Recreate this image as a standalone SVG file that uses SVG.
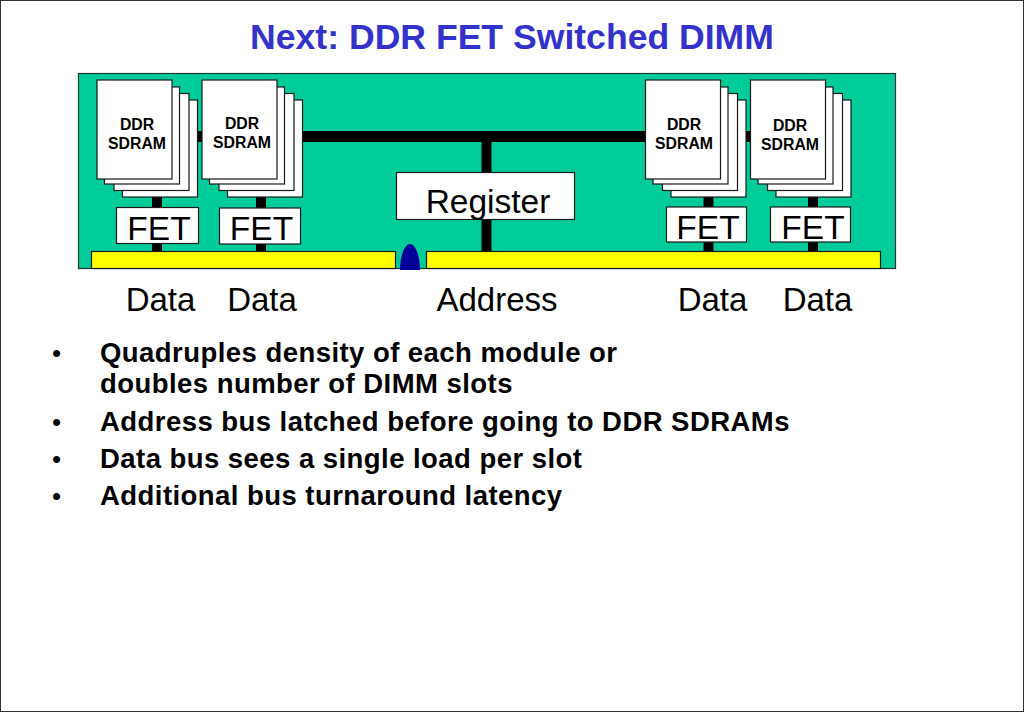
<svg xmlns="http://www.w3.org/2000/svg" width="1024" height="712" viewBox="0 0 1024 712">
<style>
text{font-family:"Liberation Sans",Arial,sans-serif;fill:#000}
.box{fill:#fff;stroke:#1a1a1a;stroke-width:1.2}
.bus{fill:#ffff00;stroke:#1a1a1a;stroke-width:1.2}
.lbl{font-size:33px;text-anchor:middle}
.chip{font-size:15.800px;font-weight:bold;text-anchor:middle}
.fet{font-size:33.500px;text-anchor:middle}
.bul{font-size:27.500px;font-weight:bold;letter-spacing:0.450px}
.dot{font-size:26px}
</style>
<defs>
<g id="stack">
<rect class="box" x="25.500" y="20" width="75" height="97"/>
<rect class="box" x="17" y="13.500" width="75" height="97"/>
<rect class="box" x="7.500" y="7" width="75" height="97"/>
<rect class="box" x="0" y="0" width="75" height="99"/>
</g>
</defs>
<rect x="0.500" y="0.500" width="1023" height="711" fill="#fff" stroke="#333"/>
<text x="512" y="49" text-anchor="middle" font-size="35.600" font-weight="bold" style="fill:#3333cc">Next: DDR FET Switched DIMM</text>
<g id="board"><rect x="78.500" y="73.500" width="817" height="195" fill="#00cc99" stroke="#1a3a30" stroke-width="1.200"/></g>
<g id="connectors" fill="#000">
<rect x="190" y="131" width="470" height="11"/>
<rect x="735" y="131" width="30" height="11"/>
<rect x="481.500" y="136" width="10" height="118"/>
<rect x="152" y="195" width="10" height="58"/>
<rect x="256" y="195" width="10" height="58"/>
<rect x="703.500" y="195" width="10" height="58"/>
<rect x="808" y="195" width="10" height="58"/>
</g>
<g id="dimm-left-1"><use href="#stack" x="97" y="80"/><text class="chip" x="137" y="130">DDR</text><text class="chip" x="137" y="149">SDRAM</text></g>
<g id="dimm-left-2"><use href="#stack" x="202" y="80"/><text class="chip" x="242" y="129">DDR</text><text class="chip" x="242" y="148">SDRAM</text></g>
<g id="dimm-right-1"><use href="#stack" x="645.500" y="80"/><text class="chip" x="684" y="130">DDR</text><text class="chip" x="684" y="149">SDRAM</text></g>
<g id="dimm-right-2"><use href="#stack" x="750.500" y="80"/><text class="chip" x="790" y="131">DDR</text><text class="chip" x="790" y="150">SDRAM</text></g>
<g id="fet-1"><rect class="box" x="116.500" y="207.500" width="82" height="36"/><text class="fet" x="159" y="240">FET</text></g>
<g id="fet-2"><rect class="box" x="219.500" y="208" width="81" height="36"/><text class="fet" x="261.500" y="240">FET</text></g>
<g id="fet-3"><rect class="box" x="666.500" y="207" width="80" height="35"/><text class="fet" x="708" y="239">FET</text></g>
<g id="fet-4"><rect class="box" x="770.500" y="207" width="80" height="35"/><text class="fet" x="813" y="239">FET</text></g>
<g id="register"><rect class="box" x="396.500" y="172.500" width="178" height="47"/><text x="488" y="213" text-anchor="middle" font-size="33.500">Register</text></g>
<g id="bus-left"><rect class="bus" x="91.500" y="251.500" width="304" height="17"/></g>
<g id="bus-right"><rect class="bus" x="426.500" y="251.500" width="454" height="17"/></g>
<g id="notch"><path d="M400 270C400 255 405 244 410 244C415 244 420 255 420 270Z" fill="#000099"/></g>
<text class="lbl" x="160.500" y="311">Data</text>
<text class="lbl" x="262" y="311">Data</text>
<text class="lbl" x="497" y="311">Address</text>
<text class="lbl" x="712.500" y="311">Data</text>
<text class="lbl" x="817.500" y="311">Data</text>
<text class="dot" x="52" y="362">•</text>
<text class="bul" x="100" y="362">Quadruples density of each module or</text>
<text class="bul" x="100" y="393">doubles number of DIMM slots</text>
<text class="dot" x="52" y="431">•</text>
<text class="bul" x="100" y="431">Address bus latched before going to DDR SDRAMs</text>
<text class="dot" x="52" y="468">•</text>
<text class="bul" x="100" y="468">Data bus sees a single load per slot</text>
<text class="dot" x="52" y="505">•</text>
<text class="bul" x="100" y="505">Additional bus turnaround latency</text>
</svg>
